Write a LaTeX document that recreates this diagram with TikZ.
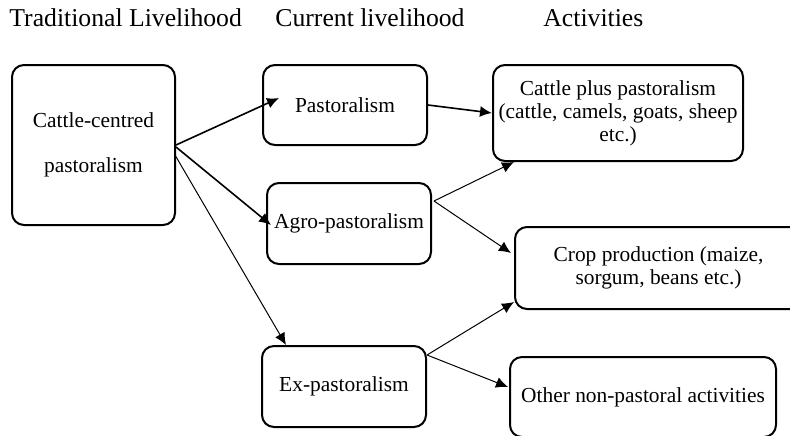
\documentclass[tikz,border=0pt]{standalone}
\usepackage{fontspec}
\setmainfont{Liberation Serif}
\usepackage{tikz}
\usetikzlibrary{arrows.meta,positioning,calc}

\newcommand\boxsize{\fontsize{10.7}{11.5}\selectfont}
\newcommand\headsize{\fontsize{12.85}{15}\selectfont}

\tikzset{
  box/.style={draw, rounded corners=6pt, line width=1pt, align=center, inner sep=1pt, font=\boxsize},
  head/.style={anchor=base west, inner sep=0pt, font=\headsize},
  link/.style={-{Latex[length=6pt,width=5.5pt]}, line width=0.5pt},
  boldlink/.style={link, line width=0.8pt}
}

\begin{document}
\begin{tikzpicture}[x=0.5pt, y=-0.5pt]
\useasboundingbox (0,0) rectangle (790,435);

\node [head] (h1) at (9,26) {Traditional Livelihood};
\node [head] (h2) at (275,26) {Current livelihood};
\node [head] (h3) at (543,26) {Activities};

\node [box, minimum width=82pt, minimum height=40pt] (past) at (345,105) {Pastoralism};
\node [box, minimum width=82pt, minimum height=40.5pt, below =18pt of past, xshift=2pt] (agro) {Agro-pastoralism};
\node [box, minimum width=82pt, minimum height=40.5pt, below =40pt of agro, xshift=-2.5pt] (ex) {Ex-pastoralism};

\node [box, minimum width=81.5pt, minimum height=80pt, left =43pt of past.north west, anchor=north east] (tl) {Cattle-centred\\[11pt]pastoralism};

\node [box, minimum width=125pt, minimum height=48pt, right =32pt of past.north east, anchor=north west] (cattle) {Cattle plus pastoralism\\(cattle, camels, goats, sheep\\etc.)};
\node [box, minimum width=143.5pt, minimum height=41pt, below right =32pt and 11pt of cattle.south west] (crop) {Crop production (maize,\\sorgum, beans etc.)};
\node [box, minimum width=133pt, minimum height=40pt, below right =23pt and -2.5pt of crop.south west] (other) {Other non-pastoral activities};

\draw [boldlink] (tl.east) -- ($(past.west)+(17,-7)$);
\draw [boldlink] ($(tl.east)+(0,2)$) -- ($(agro.west)+(5,1.5)$);
\draw [link] ($(tl.east)+(-1,10)$) -- ($(ex.north west)+(25,0)$);

\draw [boldlink] (past.east) -- (cattle.west);
\draw [link] ($(agro.north east)+(2,19)$) -- ($(cattle.south west)+(22,0)$);
\draw [link] ($(agro.north east)+(2,19)$) -- ($(crop.west)+(-3,-15)$);
\draw [link] ($(ex.north east)+(0,10)$) -- ($(crop.south west)+(0,-8)$);
\draw [link] ($(ex.north east)+(0,10)$) -- ($(other.west)+(-1,-10)$);

\end{tikzpicture}
\end{document}
